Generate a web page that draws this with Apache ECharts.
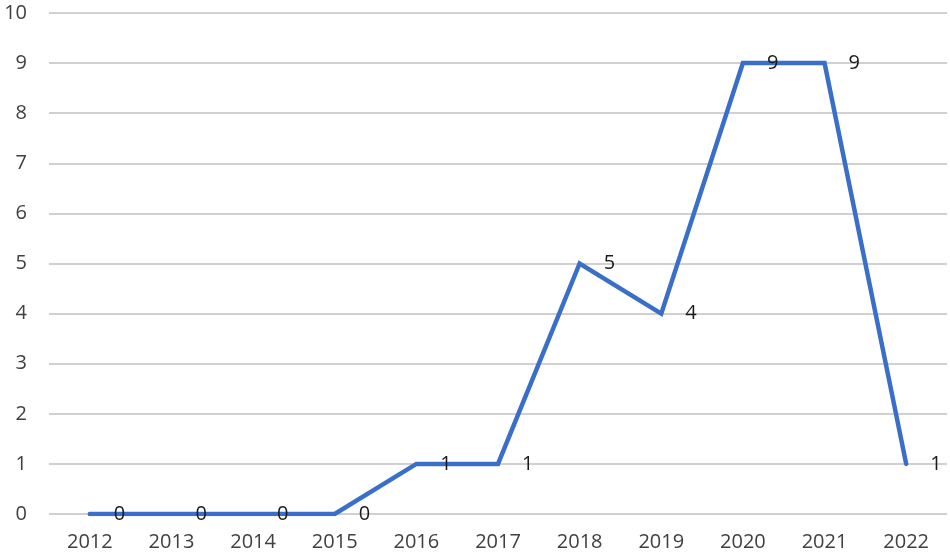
<!DOCTYPE html>
<html><head><meta charset="utf-8">
<script src="https://cdn.jsdelivr.net/npm/echarts@6/dist/echarts.min.js"></script>
<style>html,body{margin:0;padding:0;background:#fff}#c{width:950px;height:557px}</style>
</head><body><div id="c"></div>
<script>
const years = ['2012','2013','2014','2015','2016','2017','2018','2019','2020','2021','2022'];
const counts = [0,0,0,0,1,1,5,4,9,9,1];
const chart = echarts.init(document.getElementById('c'), null, {renderer:'canvas'});
chart.setOption({
  animation:false,
  backgroundColor:'#fff',
  grid:{left:49,right:3,top:13,bottom:43},
  xAxis:{type:'category',data:years,boundaryGap:true,
    axisLine:{show:false},axisTick:{show:false},
    axisLabel:{color:'#404040',fontSize:20,fontFamily:'Open Sans',margin:18}},
  yAxis:{type:'value',min:0,max:10,interval:1,
    axisLine:{show:false},axisTick:{show:false},
    splitLine:{lineStyle:{color:'#d0d0d0',width:2}},
    axisLabel:{color:'#404040',fontSize:20,fontFamily:'Open Sans',margin:22}},
  series:[{type:'line',data:counts,
    lineStyle:{color:'#3a6fc9',width:4.5,cap:'round',join:'miter'},
    symbol:'circle',symbolSize:2,showSymbol:true,
    itemStyle:{color:'#3a6fc9'},
    label:{show:true,position:'right',distance:23,color:'#1a1a1a',fontSize:20,fontFamily:'Open Sans'}
  }]
});
</script></body></html>
